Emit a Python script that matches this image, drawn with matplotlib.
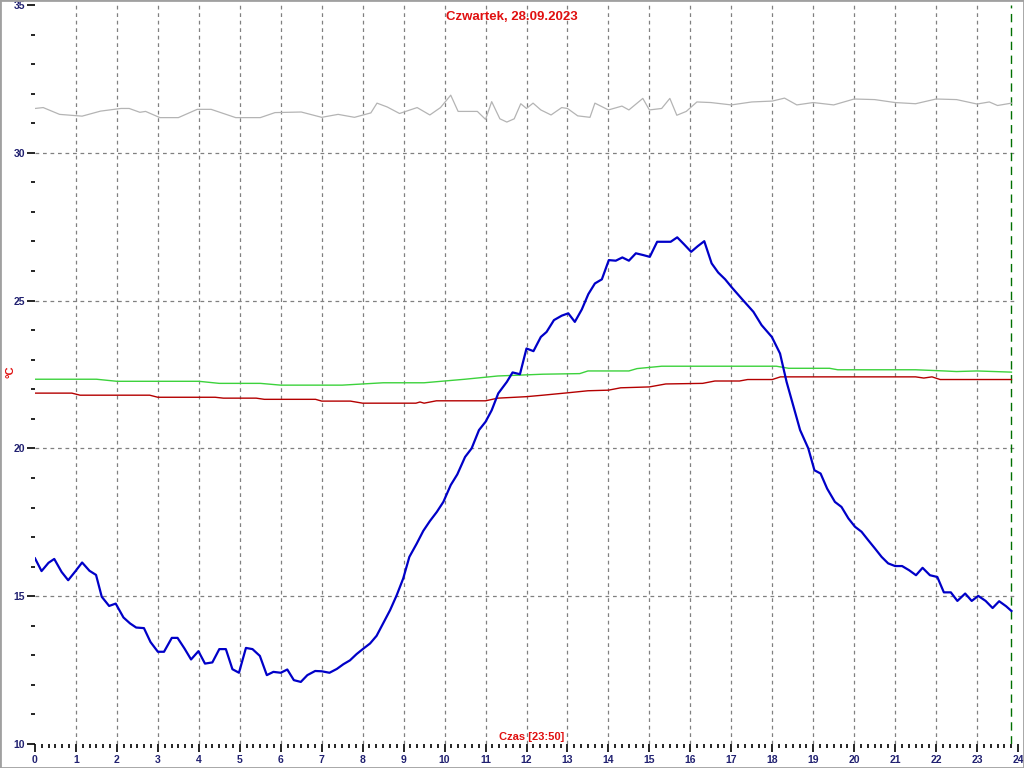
import matplotlib
matplotlib.use("Agg")
import matplotlib.pyplot as plt
from matplotlib.patches import Rectangle
from matplotlib.ticker import MultipleLocator

plt.rcParams['font.family'] = ['Liberation Sans', 'DejaVu Sans']

# temperatura zewnetrzna (niebieska)
t_out = [0.0, 0.16, 0.33, 0.47, 0.65, 0.81, 0.99, 1.15, 1.33, 1.49, 1.63, 1.81, 1.97,
         2.16, 2.32, 2.47, 2.66, 2.82, 3.0, 3.15, 3.34, 3.48, 3.65, 3.81, 3.99, 4.15,
         4.33, 4.5, 4.66, 4.82, 4.98, 5.15, 5.31, 5.49, 5.66, 5.82, 6.0, 6.16, 6.32,
         6.49, 6.65, 6.84, 7.0, 7.19, 7.37, 7.53, 7.69, 7.85, 8.02, 8.18, 8.34, 8.5,
         8.67, 8.83, 8.99, 9.14, 9.32, 9.48, 9.64, 9.81, 9.97, 10.15, 10.31, 10.5,
         10.66, 10.84, 11.0, 11.15, 11.31, 11.52, 11.66, 11.84, 12.0, 12.17, 12.35,
         12.49, 12.67, 12.86, 13.02, 13.18, 13.35, 13.51, 13.67, 13.84, 14.01, 14.18,
         14.34, 14.5, 14.67, 14.85, 15.01, 15.19, 15.36, 15.52, 15.68, 15.85, 16.02,
         16.18, 16.34, 16.52, 16.68, 16.85, 17.01, 17.25, 17.54, 17.74, 17.99, 18.19,
         18.35, 18.51, 18.68, 18.88, 19.03, 19.18, 19.34, 19.53, 19.69, 19.86, 20.02,
         20.18, 20.34, 20.51, 20.67, 20.83, 21.0, 21.17, 21.34, 21.51, 21.67, 21.85,
         22.03, 22.19, 22.36, 22.52, 22.71, 22.87, 23.03, 23.21, 23.38, 23.54, 23.71,
         23.84]
v_out = [16.28, 15.85, 16.13, 16.26, 15.82, 15.54, 15.85, 16.14, 15.86, 15.72, 14.98,
         14.67, 14.75, 14.28, 14.08, 13.94, 13.92, 13.45, 13.12, 13.12, 13.59, 13.59,
         13.23, 12.86, 13.14, 12.72, 12.76, 13.21, 13.21, 12.53, 12.41, 13.25, 13.21,
         12.98, 12.33, 12.44, 12.41, 12.52, 12.16, 12.10, 12.33, 12.47, 12.46, 12.41,
         12.54, 12.70, 12.83, 13.04, 13.23, 13.40, 13.66, 14.08, 14.53, 15.03, 15.60,
         16.33, 16.78, 17.21, 17.54, 17.85, 18.19, 18.76, 19.12, 19.71, 20.0, 20.62,
         20.90, 21.29, 21.86, 22.25, 22.57, 22.51, 23.38, 23.29, 23.77, 23.94, 24.34,
         24.49, 24.57, 24.28, 24.70, 25.22, 25.58, 25.72, 26.37, 26.35, 26.46, 26.35,
         26.60, 26.54, 26.48, 26.99, 26.99, 26.99, 27.14, 26.90, 26.65, 26.84, 27.01,
         26.26, 25.95, 25.72, 25.45, 25.07, 24.62, 24.17, 23.77, 23.21, 22.25, 21.46,
         20.62, 20.0, 19.26, 19.15, 18.64, 18.19, 18.02, 17.63, 17.35, 17.18, 16.90,
         16.61, 16.33, 16.11, 16.02, 16.02, 15.88, 15.71, 15.96, 15.71, 15.65, 15.13,
         15.13, 14.84, 15.09, 14.84, 15.01, 14.84, 14.60, 14.83, 14.66, 14.50]

# zielona
t_green = [0.0, 1.5, 2.0, 4.0, 4.5, 5.5, 6.0, 7.5, 8.0, 8.5, 9.5, 10.0, 10.5, 11.3,
           12.4, 13.3, 13.5, 14.5, 14.7, 15.3, 18.1, 18.4, 19.4, 19.6, 21.5, 22.2,
           22.5, 23.0, 23.84]
v_green = [22.34, 22.34, 22.27, 22.27, 22.2, 22.2, 22.14, 22.14, 22.18, 22.22, 22.22,
           22.28, 22.34, 22.45, 22.51, 22.53, 22.62, 22.62, 22.70, 22.78, 22.78,
           22.71, 22.71, 22.66, 22.66, 22.62, 22.60, 22.62, 22.58]

# czerwona
t_red = [0.0, 0.9, 1.1, 2.8, 3.0, 4.4, 4.6, 5.4, 5.6, 6.85, 7.0, 7.7, 8.0, 9.3, 9.4,
         9.5, 9.8, 11.0, 11.3, 12.0, 12.4, 13.0, 13.5, 14.0, 14.3, 15.0, 15.4, 16.3,
         16.6, 17.2, 17.4, 18.0, 18.2, 21.5, 21.7, 21.9, 22.1, 23.84]
v_red = [21.87, 21.87, 21.80, 21.80, 21.73, 21.73, 21.70, 21.70, 21.66, 21.66, 21.60,
         21.60, 21.53, 21.53, 21.57, 21.53, 21.61, 21.61, 21.70, 21.75, 21.80, 21.88,
         21.95, 21.97, 22.05, 22.08, 22.18, 22.2, 22.28, 22.28, 22.33, 22.33, 22.42,
         22.42, 22.38, 22.42, 22.33, 22.33]

# szara
t_grey = [0.0, 0.2, 0.6, 1.15, 1.6, 2.1, 2.3, 2.56, 2.7, 3.05, 3.5, 3.96, 4.3, 4.9,
          5.5, 5.86, 6.5, 7.0, 7.4, 7.8, 8.2, 8.35, 8.6, 8.9, 9.33, 9.64, 9.9, 10.15,
          10.33, 10.8, 11.0, 11.15, 11.35, 11.52, 11.7, 11.86, 12.0, 12.16, 12.35,
          12.6, 12.86, 13.0, 13.25, 13.55, 13.67, 14.0, 14.33, 14.5, 14.84, 15.0,
          15.3, 15.5, 15.67, 15.9, 16.16, 16.5, 17.0, 17.5, 18.0, 18.3, 18.6, 19.0,
          19.5, 20.0, 20.5, 21.0, 21.5, 22.0, 22.5, 23.0, 23.3, 23.5, 23.84]
v_grey = [31.50, 31.53, 31.30, 31.24, 31.41, 31.50, 31.50, 31.37, 31.40, 31.19, 31.19,
          31.47, 31.47, 31.19, 31.19, 31.36, 31.38, 31.20, 31.30, 31.20, 31.35, 31.68,
          31.55, 31.33, 31.53, 31.28, 31.53, 31.95, 31.40, 31.40, 31.13, 31.73, 31.15,
          31.04, 31.15, 31.66, 31.50, 31.68, 31.45, 31.28, 31.53, 31.50, 31.25, 31.20,
          31.68, 31.45, 31.58, 31.45, 31.84, 31.45, 31.50, 31.84, 31.27, 31.40, 31.72,
          31.70, 31.62, 31.72, 31.75, 31.85, 31.62, 31.70, 31.62, 31.82, 31.80, 31.70,
          31.66, 31.82, 31.80, 31.65, 31.72, 31.60, 31.68]

now_h = 23 + 50 / 60

fig = plt.figure(figsize=(10.24, 7.68), dpi=100)
ax = fig.add_axes([35 / 1024, 24 / 768, 983 / 1024, 739 / 768])

for h in range(1, 24):
    ax.axvline(h, color='#808080', lw=0.9, ls=(0, (3, 3)), zorder=1)
for y in range(15, 35, 5):
    ax.axhline(y, color='#808080', lw=0.9, ls=(0, (3, 3)), zorder=1)
ax.axvline(now_h, color='#007000', lw=1.0, ls=(0, (6, 4)), zorder=2)

ax.plot(t_grey, v_grey, color='#b4b4b4', lw=0.9, zorder=3)
ax.plot(t_green, v_green, color='#3cd23c', lw=1.0, zorder=3)
ax.plot(t_red, v_red, color='#b40000', lw=1.0, zorder=3)
ax.plot(t_out, v_out, color='#0000c8', lw=1.6, zorder=4)

ax.set_xlim(0, 24)
ax.set_ylim(10, 35)
for s in ax.spines.values():
    s.set_visible(False)

ax.xaxis.set_major_locator(MultipleLocator(1))
ax.xaxis.set_minor_locator(MultipleLocator(1 / 6))
ax.yaxis.set_major_locator(MultipleLocator(5))
ax.yaxis.set_minor_locator(MultipleLocator(1))
lab = dict(labelsize=7.5, labelcolor='#202070')
ax.tick_params(axis='x', which='major', length=6, width=1.2, pad=2, **lab)
ax.tick_params(axis='x', which='minor', length=3, width=1.2)
ax.tick_params(axis='y', which='major', length=6, width=1.2, pad=1, **lab)
ax.tick_params(axis='y', which='minor', length=3, width=1.2)
for t in ax.get_xticklabels() + ax.get_yticklabels():
    t.set_fontweight('bold')

fig.text(0.5, 1 - 17 / 768, 'Czwartek, 28.09.2023', color='#e01010',
         fontsize=9.5, fontweight='bold', ha='center', va='center')
fig.text(532 / 1024, 1 - 737 / 768, 'Czas [23:50]', color='#e01010',
         fontsize=8, fontweight='bold', ha='center', va='center')
fig.text(10 / 1024, 1 - 372 / 768, '°C', color='#e01010', fontsize=8,
         fontweight='bold', ha='center', va='center', rotation=90)

fig.patches.append(Rectangle((0, 0), 1, 1, transform=fig.transFigure, fill=False,
                             edgecolor='#a0a0a0', lw=2))

fig.savefig('out.png', dpi=100, facecolor='white')
